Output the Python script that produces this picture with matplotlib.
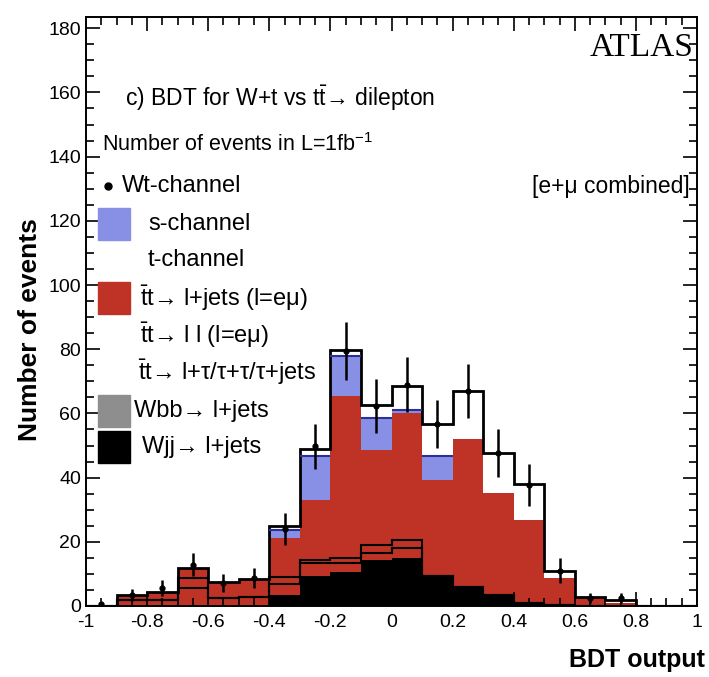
import numpy as np
import matplotlib
matplotlib.use("Agg")
import matplotlib.pyplot as plt
from matplotlib.patches import Rectangle
from matplotlib.ticker import MultipleLocator

plt.rcParams['font.family'] = ['Liberation Sans', 'DejaVu Sans']
plt.rcParams['mathtext.fontset'] = 'custom'
plt.rcParams['mathtext.rm'] = 'Liberation Sans'
plt.rcParams['mathtext.it'] = 'Liberation Sans'
plt.rcParams['mathtext.bf'] = 'Liberation Sans:bold'

# BDT output bins (20 bins of 0.1 from -1 to 1)
bin_edges = [-1.0, -0.9, -0.8, -0.7, -0.6, -0.5, -0.4, -0.3, -0.2, -0.1, 0.0,
             0.1, 0.2, 0.3, 0.4, 0.5, 0.6, 0.7, 0.8, 0.9, 1.0]

# stack heights (top of each layer)
wjj_top = [0, 0, 0, 0, 0, 0, 3.5, 9.5, 10.5, 14.4, 15, 9.2, 6, 3.4, 0.8, 0.3, 0, 0, 0, 0]
ttll_top = [0, 2, 2, 5.6, 2.5, 2.9, 7, 13.4, 13.5, 16.5, 18, 9.2, 6, 3.4, 0.8, 0.3, 0, 0, 0, 0]
tttau_top = [0, 2, 2, 8.7, 2.5, 2.9, 9, 14.4, 15, 19, 20.6, 9.2, 6, 3.4, 0.8, 0.3, 0, 0, 0, 0]
ljets_top = [0, 3.4, 4.5, 11.8, 7.6, 8.4, 21.2, 33, 65.4, 48.7, 60.2, 39.4, 51.9, 35.2, 26.9, 8.7, 2.5, 0.9, 0, 0]
schan_top = [0, 3.4, 4.5, 11.8, 7.6, 8.4, 23.7, 46.7, 77.8, 58.7, 61.2, 46.7, 51.9, 35.2, 26.9, 8.7, 2.5, 0.9, 0, 0]
total_top = [0, 3.4, 4.5, 11.8, 7.6, 8.4, 25, 49, 79.8, 62.5, 68.4, 56.6, 67, 47.8, 38, 11, 2.9, 1.9, 0, 0]

# Wt-channel points
wt_x = [-0.95, -0.85, -0.75, -0.65, -0.55, -0.45, -0.35, -0.25, -0.15, -0.05,
        0.05, 0.15, 0.25, 0.35, 0.45, 0.55, 0.65, 0.75]
wt_y = [0.6, 3.5, 5.6, 12.8, 7.2, 8.7, 24, 49.8, 79.5, 62.3, 69, 56.6, 67, 47.7, 37.8, 11, 2.6, 2.5]
wt_err = [0.8, 1.9, 2.4, 3.6, 2.7, 3, 5, 7, 9, 8.5, 8.5, 7.5, 8.5, 7.5, 6.5, 3.8, 1.6, 1.6]

red = '#bf3326'
blue = '#8790e4'

fig = plt.figure(figsize=(7.09, 6.77), dpi=100)
ax = fig.add_axes([86/709, 71/677, 611/709, 589/677])

ax.stairs(total_top, bin_edges, fill=True, color='white')
ax.stairs(schan_top, bin_edges, fill=True, color=blue)
# darker line on top of the s-channel where it shows
for i in range(len(schan_top)):
    if schan_top[i] > ljets_top[i]:
        ax.hlines(schan_top[i], bin_edges[i], bin_edges[i+1], color='#2b2f9a', lw=1.5)
ax.stairs(ljets_top, bin_edges, fill=True, color=red)
ax.stairs(wjj_top, bin_edges, fill=True, color='black')
ax.stairs(ttll_top, bin_edges, color='black', lw=1.5)
ax.stairs(tttau_top, bin_edges, color='black', lw=1.5)
ax.stairs(total_top, bin_edges, color='black', lw=2)
ax.errorbar(wt_x, wt_y, yerr=wt_err, fmt='o', color='black', ms=3.5, lw=1.8, capsize=0)

ax.set_xlim(-1, 1)
ax.set_ylim(0, 183.5)
ax.xaxis.set_major_locator(MultipleLocator(0.2))
ax.xaxis.set_minor_locator(MultipleLocator(0.05))
ax.yaxis.set_major_locator(MultipleLocator(20))
ax.yaxis.set_minor_locator(MultipleLocator(5))
ax.tick_params(which='both', direction='in', top=True, right=True, labelsize=14, width=1.2)
ax.tick_params(which='major', length=10)
ax.tick_params(which='minor', length=5.5)
ax.tick_params(axis='x', pad=6)
ax.set_xticks([-1, -0.8, -0.6, -0.4, -0.2, 0, 0.2, 0.4, 0.6, 0.8, 1])
ax.set_xticklabels(['-1', '-0.8', '-0.6', '-0.4', '-0.2', '0', '0.2', '0.4', '0.6', '0.8', '1'])
for s in ax.spines.values():
    s.set_linewidth(1.4)

fig.text(30/709, 1 - 330/677, 'Number of events', rotation=90, ha='center', va='center',
         fontsize=19, fontweight='bold')
fig.text(705/709, 1 - 660/677, 'BDT output', ha='right', va='center', fontsize=18, fontweight='bold')

# texts inside the frame (pixel coordinates of the figure)
def ftext(x, y, s, **kw):
    fig.text(x/709, 1 - y/677, s, va='center', **kw)

ftext(693, 48, 'ATLAS', ha='right', fontsize=24, family='Liberation Serif')
ftext(125, 98, r'c) BDT for W+t vs $t\bar{t}$→ dilepton', fontsize=16.5)
ftext(102, 145, r'Number of events in L=1fb$^{-1}$', fontsize=15.5)
ftext(690, 186, '[e+μ combined]', ha='right', fontsize=16.5)

legend_rows = [
    (186, 'dot', 'Wt-channel', 122),
    (224, blue, 's-channel', 148),
    (260, 'white', 't-channel', 148),
    (298, red, r'$\bar{t}t$→ l+jets (l=eμ)', 140),
    (335, None, r'$\bar{t}t$→ l l (l=eμ)', 140),
    (372, None, r'$\bar{t}t$→ l+τ/τ+τ/τ+jets', 138),
    (411, '#8e8e8e', 'Wbb→ l+jets', 134),
    (447, 'black', 'Wjj→ l+jets', 142),
]
for y, col, label, tx in legend_rows:
    if col == 'dot':
        fig.add_artist(plt.Line2D([108/709], [1 - y/677], marker='o', color='black', ms=5))
    elif col is not None:
        fig.add_artist(Rectangle((98/709, 1 - (y + 16)/677), 32/709, 32/677, color=col))
    ftext(tx, y, label, fontsize=17)

fig.savefig('out.png', dpi=100)
